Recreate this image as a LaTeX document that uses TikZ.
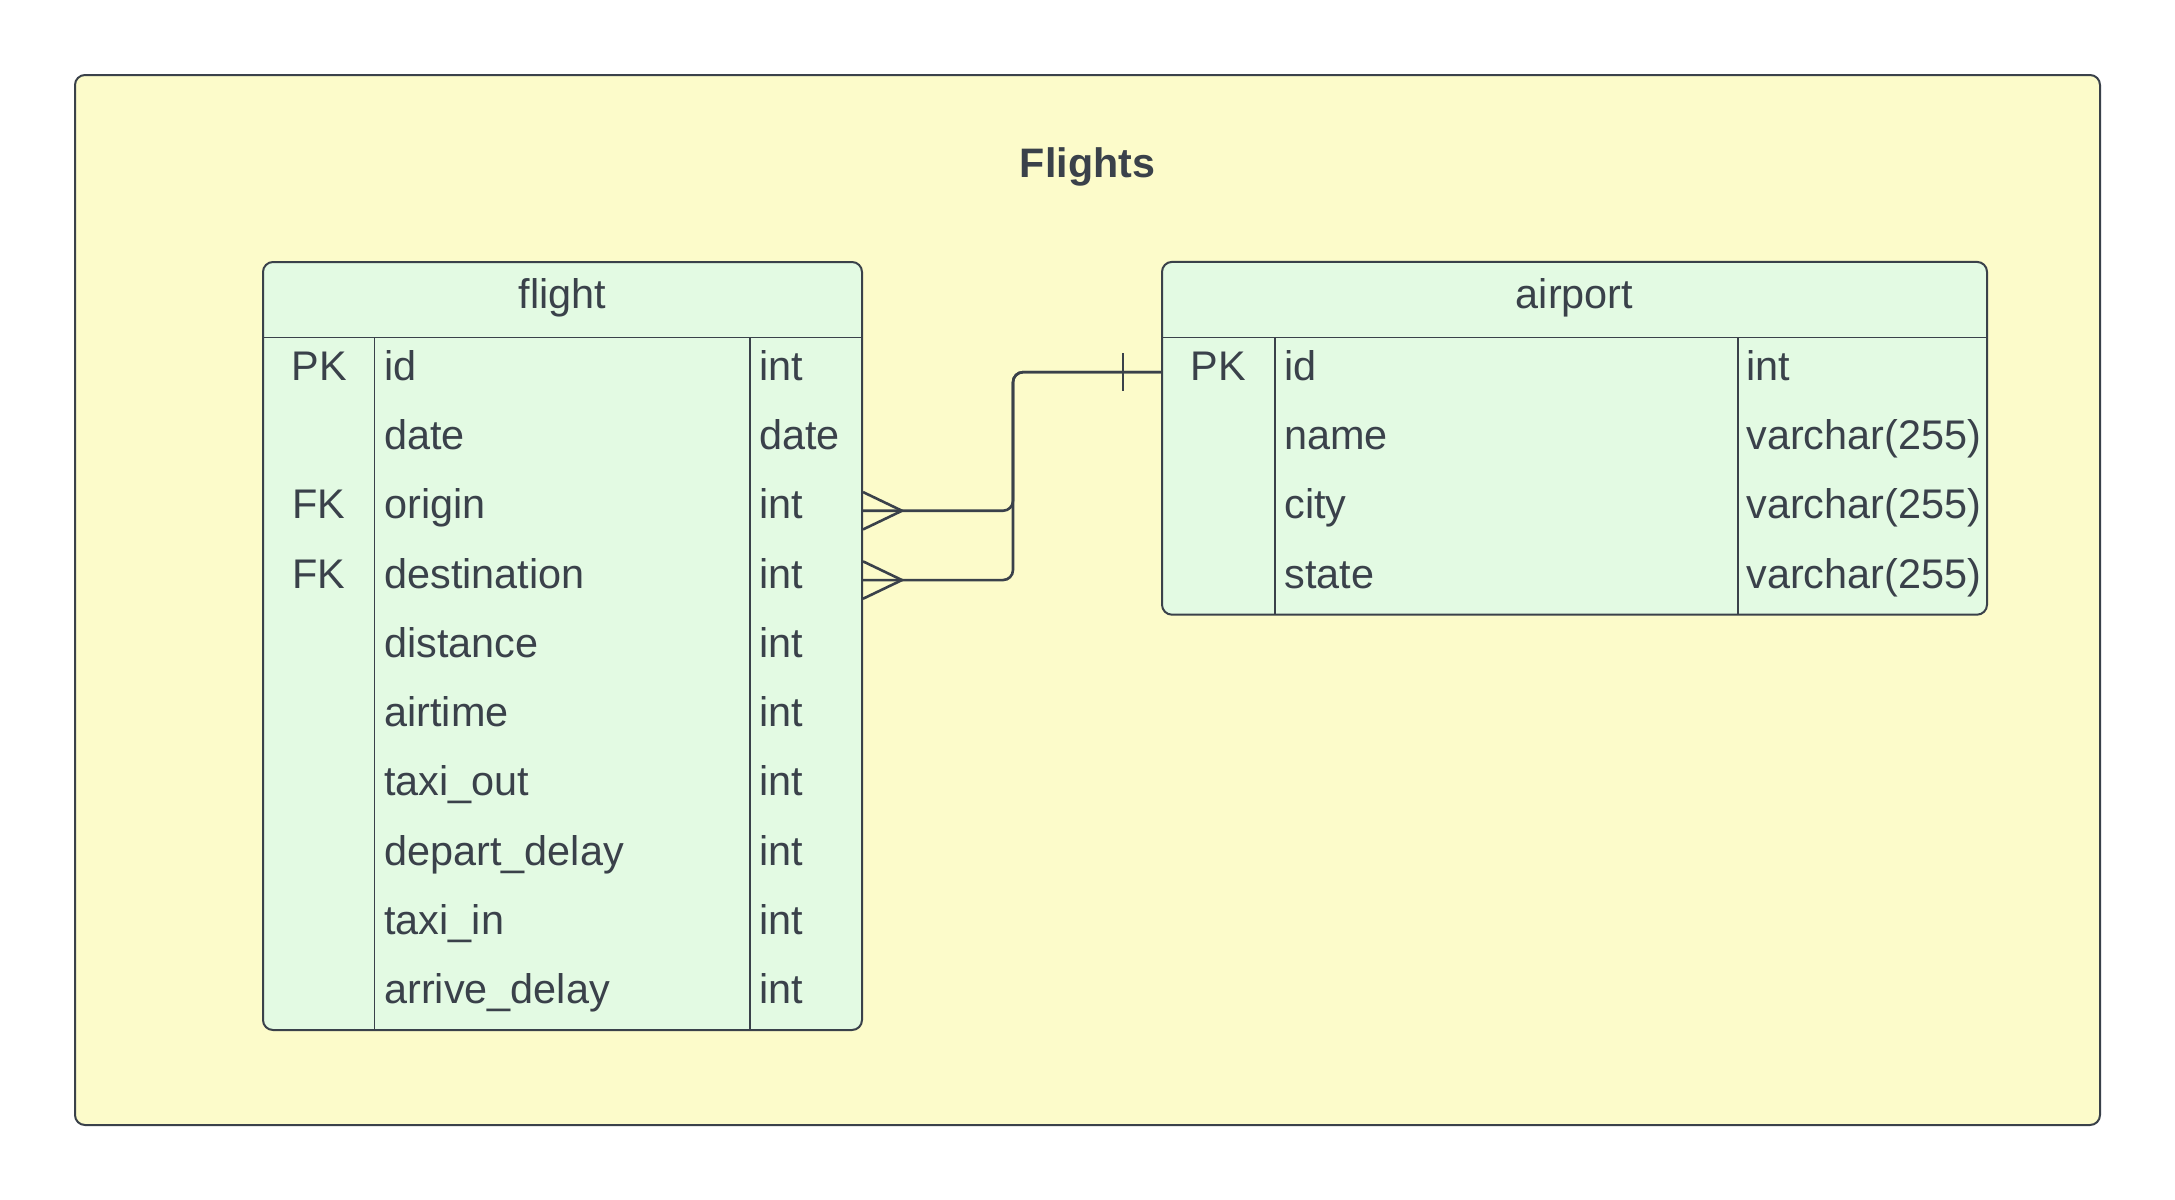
\documentclass[tikz,border=0pt]{standalone}
\usepackage{fontspec}
\setmainfont{Liberation Sans}
\definecolor{paleyellow}{HTML}{FCFBCA}
\definecolor{palegreen}{HTML}{E3FAE3}
\definecolor{ink}{HTML}{3A414A}
\tikzset{
    every node/.style={text=ink, inner sep=0pt, font=\fontsize{20.7}{24}\selectfont},
    cell/.style={text height=12pt, text depth=4pt}
}
\tikzset{
    outerframe/.style={draw=ink, fill=paleyellow, line width=1pt, rounded corners=5pt},
    tablebox/.style={draw=ink, fill=palegreen, line width=1pt, rounded corners=5pt}
}
\tikzset{
    rule/.style={draw=ink, line width=0.9pt},
    link/.style={draw=ink, line width=1.3pt, rounded corners=5pt}
}

\begin{document}
\begin{tikzpicture}[x=0.5pt, y=-0.5pt]
  \useasboundingbox (0,0) rectangle (2175,1200);
  \node (frame) [outerframe, minimum width=1012.5pt, minimum height=525pt] at (1087.5,600) {};
  \node (title) [anchor=base, font=\fontsize{20.6}{24}\selectfont\bfseries] at (1087.5,177) {Flights};

  % flight
  \node (flight) [tablebox, minimum width=299.5pt, minimum height=384pt] at (562.5,646) {};
  \node (flight-head) [cell] at (562.5,300) {flight};
  \draw [rule] (263,337.5) -- (862,337.5);
  \draw [rule] (374.5,337.5) -- (374.5,1030);
  \draw [rule] (750,337.5) -- (750,1030);
  \foreach \key/\field/\type [count=\i] in {PK/id/int, /date/date, FK/origin/int,
      FK/destination/int, /distance/int, /airtime/int, /taxi\_out/int,
      /depart\_delay/int, /taxi\_in/int, /arrive\_delay/int} {
    \node (flight-key-\i) [cell] at (319, 302.85+69.3*\i) {\key};
    \node (flight-field-\i) [cell, anchor=west] at (384, 302.85+69.3*\i) {\field};
    \node (flight-type-\i) [cell, anchor=west] at (759, 302.85+69.3*\i) {\type};
  }

  % airport
  \node (airport) [tablebox, minimum width=412.5pt, minimum height=176.4pt] at (1574.5,438.3) {};
  \node (airport-head) [cell] at (1574.5,300) {airport};
  \draw [rule] (1162,337.5) -- (1987,337.5);
  \draw [rule] (1275,337.5) -- (1275,614.7);
  \draw [rule] (1738,337.5) -- (1738,614.7);
  \foreach \key/\field/\type [count=\i] in {PK/id/int, /name/varchar(255),
      /city/varchar(255), /state/varchar(255)} {
    \node (airport-key-\i) [cell] at (1218.5, 302.85+69.3*\i) {\key};
    \node (airport-field-\i) [cell, anchor=west] at (1284, 302.85+69.3*\i) {\field};
    \node (airport-type-\i) [cell, anchor=west] at (1746, 302.85+69.3*\i) {\type};
  }

  % relations
  \draw [link] (flight.east |- flight-type-3) -- ++(150,0) |- (airport.west |- airport-type-1);
  \draw [link] (flight.east |- flight-type-4) -- ++(150,0) |- (airport.west |- airport-type-1);
  \draw [link, rounded corners=0pt] (flight.east |- flight-type-3) ++(0,-18.7) -- ++(39,18.7) -- ++(-39,18.7);
  \draw [link, rounded corners=0pt] (flight.east |- flight-type-4) ++(0,-18.7) -- ++(39,18.7) -- ++(-39,18.7);
  \draw [link] (airport.west |- airport-type-1) ++(-38,-18.7) -- ++(0,37.4);
\end{tikzpicture}
\end{document}
